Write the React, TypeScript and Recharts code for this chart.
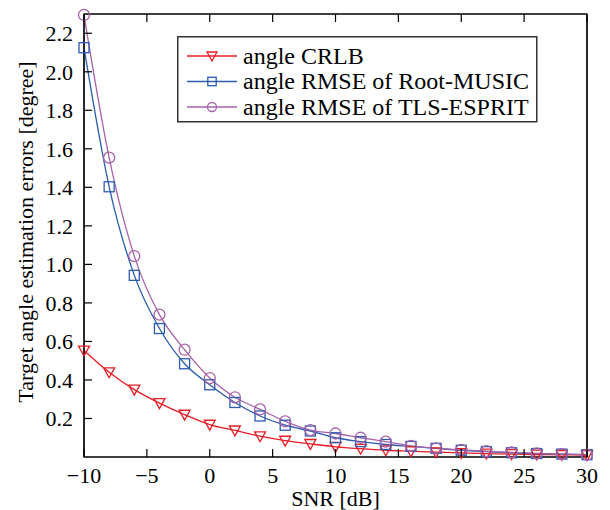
import React from "react";
import {
  LineChart,
  Line,
  XAxis,
  YAxis,
  Legend,
  ReferenceArea,
} from "recharts";

const snr = [-10, -8, -6, -4, -2, 0, 2, 4, 6, 8, 10, 12, 14, 16, 18, 20, 22, 24, 26, 28, 30];
const crlb = [0.553, 0.44, 0.35, 0.28, 0.22, 0.168, 0.138, 0.108, 0.085, 0.068, 0.053, 0.043, 0.035, 0.03, 0.025, 0.021, 0.018, 0.015, 0.013, 0.011, 0.01];
const rootMusic = [2.125, 1.403, 0.943, 0.667, 0.484, 0.375, 0.283, 0.213, 0.165, 0.135, 0.1, 0.08, 0.065, 0.055, 0.045, 0.035, 0.028, 0.022, 0.018, 0.015, 0.012];
const tlsEsprit = [2.295, 1.554, 1.043, 0.739, 0.557, 0.41, 0.31, 0.247, 0.185, 0.14, 0.122, 0.1, 0.08, 0.058, 0.045, 0.037, 0.03, 0.024, 0.019, 0.015, 0.012];

const xTicks = [-10, -5, 0, 5, 10, 15, 20, 25, 30];
const yTicks = [0.2, 0.4, 0.6, 0.8, 1.0, 1.2, 1.4, 1.6, 1.8, 2.0, 2.2];

const RED = "#e81c24";
const BLUE = "#2b5caf";
const PURPLE = "#a862a9";
const FONT = "'Liberation Serif', 'Times New Roman', serif";

const data = snr.map((s, i) => ({
  snr: s,
  crlb: crlb[i],
  music: rootMusic[i],
  tls: tlsEsprit[i],
}));

const fmtX = (v: number) => (v < 0 ? `\u2212${Math.abs(v)}` : String(v));

function TriDown({ cx, cy, color, s = 5.5 }: any) {
  return (
    <polygon
      points={`${cx - s},${cy - s * 0.8} ${cx + s},${cy - s * 0.8} ${cx},${cy + s}`}
      fill="none"
      stroke={color}
      strokeWidth={1.3}
    />
  );
}

function Square({ cx, cy, color, s = 5 }: any) {
  return (
    <rect x={cx - s} y={cy - s} width={s * 2} height={s * 2} fill="none" stroke={color} strokeWidth={1.3} />
  );
}

function Ring({ cx, cy, color, r = 5.5 }: any) {
  return <circle cx={cx} cy={cy} r={r} fill="none" stroke={color} strokeWidth={1.3} />;
}

// inward tick marks, labels outside (matlab style)
const leftTick = ({ x, y, payload }: any) => (
  <g key={`yl${payload.value}`}>
    <line x1={x + 11} x2={x + 19} y1={y} y2={y} stroke="#000" strokeWidth={1.2} />
    <text x={x} y={y} textAnchor="end" dy="0.36em" fontSize={22} fontFamily={FONT} fill="#000">
      {Number(payload.value).toFixed(1)}
    </text>
  </g>
);

const bottomTick = ({ x, y, payload }: any) => (
  <g key={`xb${payload.value}`}>
    <line x1={x} x2={x} y1={y - 18} y2={y - 26} stroke="#000" strokeWidth={1.2} />
    <text x={x} y={y} textAnchor="middle" dy="0.36em" fontSize={22} fontFamily={FONT} fill="#000">
      {fmtX(Number(payload.value))}
    </text>
  </g>
);

const topTick = ({ x, y, payload }: any) => (
  <line key={`xt${payload.value}`} x1={x} x2={x} y1={y + 10} y2={y + 18} stroke="#000" strokeWidth={1.2} />
);

const rightTick = ({ x, y, payload }: any) => (
  <line key={`yr${payload.value}`} x1={x - 10} x2={x - 18} y1={y} y2={y} stroke="#000" strokeWidth={1.2} />
);

const legendItems = [
  { label: "angle CRLB", color: RED, Marker: TriDown },
  { label: "angle RMSE of Root-MUSIC", color: BLUE, Marker: Square },
  { label: "angle RMSE of TLS-ESPRIT", color: PURPLE, Marker: Ring },
];

function LegendBox() {
  return (
    <svg width={361} height={87} style={{ display: "block" }}>
      <rect x={0.75} y={0.75} width={359} height={85} fill="#fff" stroke="#333" strokeWidth={1.5} />
      {legendItems.map((it, i) => {
        const cy = 20 + i * 25.5;
        const M = it.Marker;
        return (
          <g key={it.label}>
            <line x1={10} x2={60} y1={cy} y2={cy} stroke={it.color} strokeWidth={1.3} />
            <M cx={35} cy={cy} color={it.color} s={i === 0 ? 5 : 4.2} r={4.5} />
            <text x={66} y={cy} dy="0.33em" fontSize={24} fontFamily={FONT} fill="#000">
              {it.label}
            </text>
          </g>
        );
      })}
    </svg>
  );
}

export default function App() {
  return (
    <div style={{ position: "absolute", left: 0, top: 0, width: 610, height: 510, background: "#fff" }}>
      <LineChart
        width={610}
        height={510}
        data={data}
        margin={{ top: 13, right: 22, bottom: 0, left: 24 }}
      >
        <XAxis
          dataKey="snr"
          type="number"
          domain={[-10, 30]}
          ticks={xTicks}
          interval={0}
          height={53}
          tickSize={0}
          tickMargin={18}
          tick={bottomTick}
          axisLine={{ stroke: "#000", strokeWidth: 1.2 }}
          label={{ value: "SNR [dB]", position: "insideBottom", offset: 4, fontSize: 22, fontFamily: FONT, fill: "#000" }}
        />
        <XAxis
          xAxisId="top"
          orientation="top"
          dataKey="snr"
          type="number"
          domain={[-10, 30]}
          ticks={xTicks}
          interval={0}
          height={1}
          tickSize={0}
          tickMargin={10}
          tick={topTick}
          axisLine={{ stroke: "#000", strokeWidth: 1.2 }}
        />
        <YAxis
          type="number"
          domain={[0, 2.3]}
          ticks={yTicks}
          interval={0}
          width={60}
          tickSize={0}
          tickMargin={11}
          tick={leftTick}
          axisLine={{ stroke: "#000", strokeWidth: 1.2 }}
        />
        <YAxis
          yAxisId="right"
          orientation="right"
          type="number"
          domain={[0, 2.3]}
          ticks={yTicks}
          interval={0}
          width={1}
          tickSize={0}
          tickMargin={10}
          tick={rightTick}
          axisLine={{ stroke: "#000", strokeWidth: 1.2 }}
        />
        <ReferenceArea x1={-10} x2={30} y1={0} y2={2.3} fill="none" stroke="#000" strokeWidth={1.2} />
        <Legend
          layout="vertical"
          align="center"
          verticalAlign="middle"
          content={<LegendBox />}
          wrapperStyle={{ left: 177, top: 36, width: 361, height: 87 }}
        />
        <Line
          type="monotone"
          dataKey="crlb"
          stroke={RED}
          strokeWidth={1.3}
          isAnimationActive={false}
          dot={(p: any) => <TriDown key={`c${p.index}`} cx={p.cx} cy={p.cy} color={RED} />}
        />
        <Line
          type="monotone"
          dataKey="music"
          stroke={BLUE}
          strokeWidth={1.3}
          isAnimationActive={false}
          dot={(p: any) => <Square key={`m${p.index}`} cx={p.cx} cy={p.cy} color={BLUE} />}
        />
        <Line
          type="monotone"
          dataKey="tls"
          stroke={PURPLE}
          strokeWidth={1.3}
          isAnimationActive={false}
          dot={(p: any) => <Ring key={`t${p.index}`} cx={p.cx} cy={p.cy} color={PURPLE} />}
        />
      </LineChart>
      <div
        style={{
          position: "absolute",
          left: 26,
          top: 232,
          transform: "translate(-50%, -50%) rotate(-90deg)",
          whiteSpace: "nowrap",
          fontFamily: FONT,
          fontSize: 22,
          color: "#000",
        }}
      >
        Target angle estimation errors [degree]
      </div>
    </div>
  );
}
